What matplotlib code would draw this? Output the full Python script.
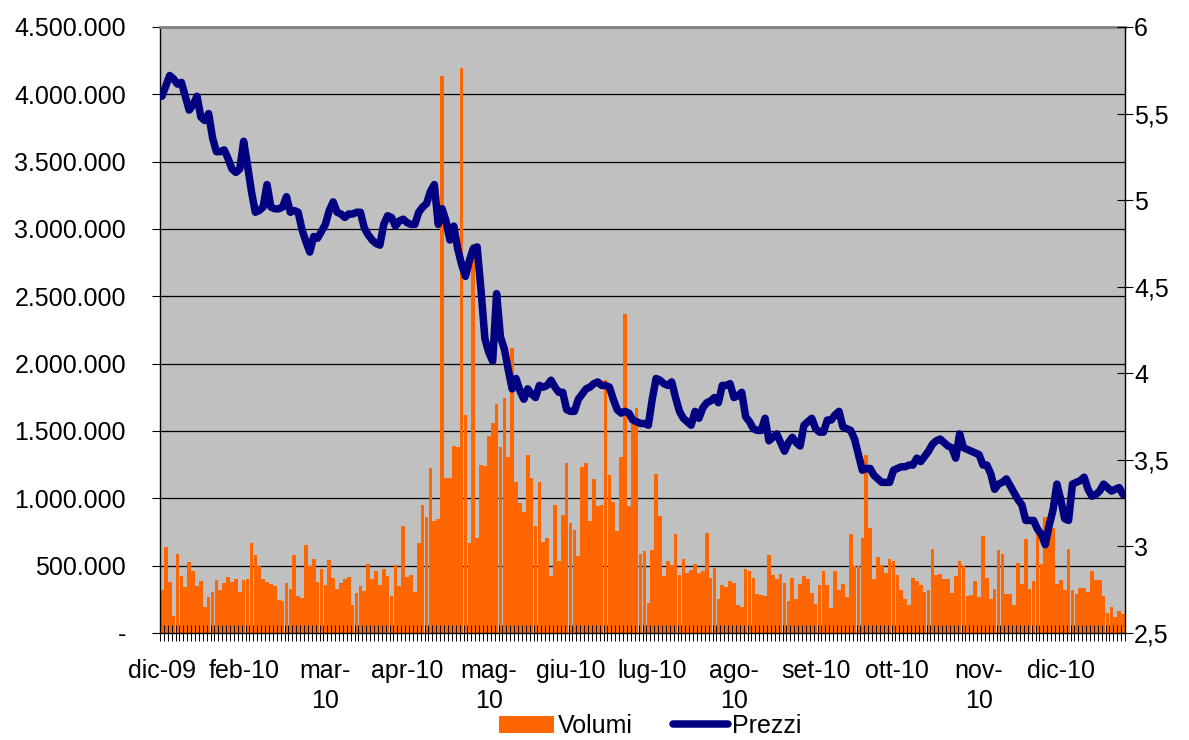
import numpy as np
import matplotlib
matplotlib.use('Agg')
import matplotlib.pyplot as plt
from matplotlib.ticker import MultipleLocator, FuncFormatter
from matplotlib.transforms import ScaledTranslation

plt.rcParams['font.family'] = ['Liberation Sans', 'DejaVu Sans']

# daily traded volumes (thousands of shares), one per trading session
volumi_k = [
    320, 636, 381, 126, 586, 425, 343, 528, 463, 352, 387, 190, 270, 308, 396,
    322, 372, 416, 381, 404, 308, 393, 404, 668, 580, 498, 404, 381, 366, 352,
    246, 234, 375, 328, 580, 273, 258, 656, 498, 548, 381,
    475, 357, 542, 410, 328, 375, 401, 419, 211, 299, 352, 314, 516, 404, 460,
    357, 475, 425, 273, 504, 346, 791, 416, 428, 308, 665, 947, 859, 1228, 835,
    844, 4138,
    1150, 1150, 1390, 1380, 4197, 1618, 668, 2887,
    703, 1246, 1237, 1460, 1559, 1700, 1383, 1744, 1304, 2116, 1120, 967, 900,
    1325, 1149, 791, 1120, 674, 703, 425, 953, 533, 879, 1260, 815, 768, 571,
    1231, 1260, 835, 1143, 944, 953, 1876, 1172, 973, 756, 1304, 2368, 944,
    1553, 1670, 586,
    607, 220, 615, 1178, 870, 425, 533, 504, 733, 434, 548, 445, 469, 513, 448,
    463, 744, 410, 484, 249, 360, 343, 387, 375, 205, 196, 475, 463, 410, 293,
    284, 278, 577, 431, 401, 440, 375, 234, 410, 249, 366,
    425, 401, 299, 217, 357, 463, 357, 185, 463, 322, 363, 264, 733, 498, 495,
    703, 1319, 783, 401, 563, 504, 445, 551, 533, 431, 322, 249, 211, 410, 387,
    357, 308, 317, 621, 434, 440, 404, 404, 299, 425, 533,
    498, 278, 284, 387, 264, 718, 410, 255, 328, 615, 586, 287, 293, 211, 519,
    366,
    698, 328, 387, 762, 513, 862, 856, 783, 366, 396, 322, 624, 322, 293, 331,
    331, 308, 460, 396, 390, 278, 147, 196, 117, 161, 138,
]

# closing prices (euro)
prezzi = [
    5.60, 5.66, 5.72, 5.70, 5.67, 5.68, 5.60, 5.52, 5.55, 5.60, 5.48, 5.46,
    5.50, 5.36, 5.28, 5.28, 5.29, 5.24, 5.18, 5.16, 5.18, 5.34, 5.20, 5.05,
    4.93, 4.94, 4.96, 5.09, 4.96, 4.95, 4.95, 4.96, 5.02, 4.93, 4.94, 4.93,
    4.83, 4.76, 4.70, 4.79, 4.78, 4.82, 4.86, 4.94, 4.99, 4.93, 4.92, 4.90,
    4.92, 4.92, 4.93, 4.93, 4.84, 4.80, 4.77, 4.75, 4.74, 4.86, 4.91, 4.90,
    4.85, 4.88, 4.89, 4.87, 4.86, 4.86, 4.93, 4.96, 4.98, 5.05, 5.09, 4.86,
    4.95, 4.88, 4.77, 4.85, 4.72, 4.63, 4.56, 4.65, 4.72, 4.73, 4.48, 4.20,
    4.12, 4.07, 4.46, 4.21, 4.14, 4.02, 3.91, 3.97, 3.90, 3.85, 3.91, 3.88,
    3.86, 3.93, 3.92, 3.93, 3.96, 3.92, 3.89, 3.89, 3.79, 3.78, 3.78, 3.85,
    3.88, 3.91, 3.92, 3.94, 3.95, 3.93, 3.93, 3.92, 3.85, 3.79, 3.77, 3.78,
    3.77, 3.73, 3.72, 3.71, 3.71, 3.70, 3.85, 3.97, 3.96, 3.94, 3.93, 3.95,
    3.86, 3.78, 3.74, 3.72, 3.70, 3.78, 3.74, 3.80, 3.83, 3.84, 3.86, 3.83,
    3.93, 3.93, 3.94, 3.86, 3.87, 3.89, 3.75, 3.72, 3.68, 3.67, 3.67, 3.74,
    3.61, 3.63, 3.65, 3.60, 3.55, 3.60, 3.63, 3.60, 3.58, 3.70, 3.72, 3.74,
    3.68, 3.66, 3.66, 3.73, 3.73, 3.76, 3.78, 3.69, 3.68, 3.67, 3.62, 3.53,
    3.44, 3.45, 3.45, 3.41, 3.39, 3.37, 3.37, 3.37, 3.44, 3.45, 3.46, 3.46,
    3.47, 3.47, 3.51, 3.49, 3.52, 3.55, 3.59, 3.61, 3.62, 3.60, 3.58, 3.57,
    3.51, 3.65, 3.57, 3.56, 3.55, 3.54, 3.53, 3.47, 3.47, 3.42, 3.33, 3.36,
    3.37, 3.39, 3.35, 3.31, 3.27, 3.24, 3.15, 3.15, 3.15, 3.10, 3.07, 3.01,
    3.12, 3.21, 3.36, 3.27, 3.16, 3.15, 3.36, 3.37, 3.38, 3.40, 3.33, 3.29,
    3.30, 3.32, 3.36, 3.34, 3.32, 3.33, 3.34, 3.30,
]

mesi = ['dic-09', 'feb-10', 'mar-\n10', 'apr-10', 'mag-\n10', 'giu-10',
        'lug-10', 'ago-\n10', 'set-10', 'ott-10', 'nov-\n10', 'dic-10']
passo_mesi = 21  # one label every 21 sessions

volumi = np.array(volumi_k) * 1000
n = len(volumi)
x = np.arange(n)

fig = plt.figure(figsize=(11.89, 7.40), dpi=100)
ax = fig.add_axes([160 / 1189, 1 - 633 / 740, 965 / 1189, 606 / 740])
ax.set_facecolor('#C0C0C0')

# volume bars on the left axis
barre = ax.bar(x, volumi, width=0.94, color='#FF6600', linewidth=0, zorder=1)
for v in range(500000, 4500000, 500000):
    ax.axhline(v, color='black', lw=0.9, zorder=0.6)

ax.set_xlim(-0.5, n - 0.5)
ax.set_ylim(0, 4500000)
ax.yaxis.set_major_locator(MultipleLocator(500000))
ax.yaxis.set_major_formatter(FuncFormatter(
    lambda v, p: '-' if v == 0 else f'{v:,.0f}'.replace(',', '.')))
ax.tick_params(axis='y', direction='out', length=6, width=0.8,
               pad=18.5, labelsize=18)

# a tick between every session, month labels every 21 sessions
ax.set_xticks(np.arange(-0.5, n, 1))
ax.tick_params(axis='x', which='major', direction='inout', length=11,
               width=0.7, labelbottom=False)
ax.set_xticks(np.arange(0, n, passo_mesi), minor=True)
ax.set_xticklabels(mesi, minor=True, linespacing=1.3)
ax.tick_params(axis='x', which='minor', length=0, pad=19, labelsize=18)

for s in ['left', 'bottom']:
    ax.spines[s].set_color('black')
    ax.spines[s].set_linewidth(1.0)
ax.spines['top'].set_color('#808080')
ax.spines['top'].set_linewidth(2)
ax.spines['right'].set_visible(False)

# the dash for zero sits a little further left
lab0 = ax.yaxis.get_major_ticks()[0].label1
lab0.set_transform(lab0.get_transform()
                   + ScaledTranslation(-0.10, 0, fig.dpi_scale_trans))

# price line on the right axis
ax2 = ax.twinx()
linea, = ax2.plot(x, prezzi, color='#000080', lw=5.4,
                  solid_joinstyle='round', solid_capstyle='round')
ax2.set_ylim(2.5, 6)
ax2.yaxis.set_major_locator(MultipleLocator(0.5))
ax2.yaxis.set_major_formatter(FuncFormatter(
    lambda v, p: f'{v:g}'.replace('.', ',')))
ax2.tick_params(axis='y', direction='inout', length=11, width=0.8,
                pad=1, labelsize=18)
for s in ['top', 'left', 'bottom']:
    ax2.spines[s].set_visible(False)
ax2.spines['right'].set_color('black')
ax2.spines['right'].set_linewidth(1.0)

fig.legend([barre, linea], ['Volumi', 'Prezzi'], loc='center',
           bbox_to_anchor=(650 / 1189, 1 - 726 / 740), ncol=2,
           frameon=False, fontsize=18, handlelength=2.2,
           handletextpad=0.15, columnspacing=1.6, borderpad=0.1)

fig.savefig('out.png', dpi=100, facecolor='white')
